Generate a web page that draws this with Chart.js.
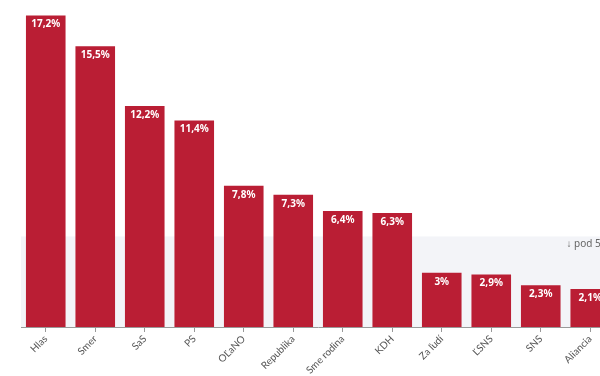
<!DOCTYPE html>
<html>
<head>
<meta charset="utf-8">
<script src="https://cdn.jsdelivr.net/npm/chart.js@4/dist/chart.umd.min.js"></script>
<style>
  html, body { margin: 0; padding: 0; overflow: hidden; background: #fff; }
  #wrap { width: 615px; height: 376px; }
</style>
</head>
<body>
<div id="wrap"><canvas id="graf"></canvas></div>
<script>
// strany a prieskum (v %)
var strany = ['Hlas', 'Smer', 'SaS', 'PS', 'OĽaNO', 'Republika', 'Sme rodina', 'KDH', 'Za ľudí', 'ĽSNS', 'SNS', 'Aliancia'];
var hodnoty = [17.2, 15.5, 12.2, 11.4, 7.8, 7.3, 6.4, 6.3, 3, 2.9, 2.3, 2.1];
var hranica = 5;
var hranicaText = '↓ pod 5%';

function formatPct(v) {
    return String(v).replace('.', ',') + '%';
}

// pas pod 5 % a popisky v stlpcoch
var pasPlugin = {
    id: 'pas',
    beforeDatasetsDraw: function (chart) {
        var c = chart.ctx, a = chart.chartArea, y = chart.scales.y;
        var top = y.getPixelForValue(hranica), bot = y.getPixelForValue(0);
        c.save();
        c.fillStyle = '#f3f4f8';
        c.fillRect(a.left, top, a.right - a.left, bot - top);
        c.fillStyle = '#666';
        c.font = '10px "Noto Sans"';
        c.textAlign = 'right';
        c.textBaseline = 'middle';
        c.fillText(hranicaText, a.right - 6, top + 8);
        c.restore();
    },
    afterDatasetsDraw: function (chart) {
        var c = chart.ctx;
        var meta = chart.getDatasetMeta(0);
        c.save();
        c.fillStyle = '#fff';
        c.font = 'bold 10px "Noto Sans"';
        c.textAlign = 'center';
        c.textBaseline = 'middle';
        meta.data.forEach(function (bar, i) {
            c.fillText(formatPct(hodnoty[i]), bar.x, bar.y + 9);
        });
        c.restore();
    }
};

var ctx = document.getElementById('graf').getContext('2d');
var graf = new Chart(ctx, {
    type: 'bar',
    data: {
        labels: strany,
        datasets: [{
            data: hodnoty,
            backgroundColor: 'rgb(186, 30, 52)',
            categoryPercentage: 1,
            barPercentage: 0.8
        }]
    },
    options: {
        responsive: true,
        maintainAspectRatio: false,
        animation: false,
        layout: { padding: { left: 21, top: 1, right: 0, bottom: 0 } },
        plugins: { legend: { display: false }, tooltip: { enabled: false } },
        scales: {
            x: {
                grid: { display: true, drawOnChartArea: false, offset: false, tickLength: 5, color: '#999' },
                border: { color: '#999' },
                ticks: {
                    color: '#555',
                    font: { family: 'Lato', size: 10 },
                    maxRotation: 45,
                    minRotation: 45,
                    padding: 1
                },
                afterFit: function (s) { s.height = 49; }
            },
            y: {
                display: false,
                min: 0,
                max: 18
            }
        }
    },
    plugins: [pasPlugin]
});
</script>
</body>
</html>
